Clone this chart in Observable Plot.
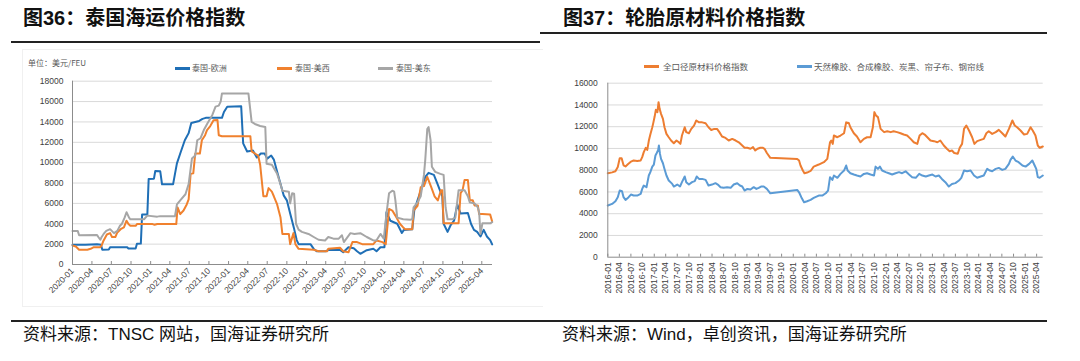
<!DOCTYPE html>
<html>
<head>
<meta charset="utf-8">
<script src="https://cdn.jsdelivr.net/npm/d3@7"></script>
<script src="https://cdn.jsdelivr.net/npm/@observablehq/plot@0.6"></script>
<style>
  html, body { margin: 0; padding: 0; background: #fff; }
  #root { position: relative; width: 1080px; height: 361px; overflow: hidden; background: #fff;
          font-family: "Liberation Sans", "Noto Sans CJK SC", sans-serif; }
  .abs { position: absolute; }
  .title { font-family: "Liberation Sans", "Noto Sans CJK SC", sans-serif; font-weight: bold; font-size: 20px; line-height: 20px; color: #111; white-space: nowrap; }
  .rule { background: #222; height: 2px; }
  .caption { font-family: "Liberation Sans", "Noto Sans CJK SC", sans-serif; font-size: 17px; line-height: 17px; color: #111; white-space: nowrap; }
  .leg { font-family: "Noto Sans CJK SC", sans-serif; font-size: 8px; line-height: 10px; color: #595959; white-space: nowrap; }
  .legR { font-size: 8.5px; }
  .sw { height: 2.5px; }
</style>
</head>
<body>
<div id="root"></div>
<script>
// ---------------- DATA ----------------
// Fig.36 — Thai shipping price index (USD/FEU); time = months since 2020-01
const thaiSeries = ["泰国-欧洲", "泰国-美西", "泰国-美东"];
const euT = [0,2,3.8,4.4,4.6,5.6,5.8,8.4,8.6,9.7,9.9,10.5,10.7,11.5,11.7,12.5,12.7,13.5,13.8,15.5,15.8,16.1,16.6,17.3,17.9,18.3,18.9,19.5,20,20.5,23,23.3,23.8,26,26.3,26.9,27.8,28.4,29,29.6,30,30.6,31,31.5,32,32.5,33,33.5,34.1,34.5,34.8,36.6,37.1,37.6,39,39.4,41.2,41.7,42.5,43.3,43.8,44.3,45.3,46.3,46.8,47.4,48,48.3,48.9,50,50.7,51,52.3,52.6,53.1,53.8,54.3,54.8,55.6,56.1,56.9,57.1,57.7,58.2,58.7,59.2,59.7,60.8,61.3,61.8,62.3,62.8,63.3,63.8,64.3,64.6];
const euV = [1950,1950,1980,1950,1450,1480,1700,1700,1570,1570,2030,2050,4900,4900,8400,8430,9180,9150,7870,7870,8900,9930,10900,12200,12900,13900,14000,14100,14300,14400,14400,14980,15500,15550,11900,11100,11200,10500,10900,10900,10400,10700,10300,9100,7930,6790,6300,5000,3500,2400,2000,2000,1530,1300,1300,1420,1420,1200,1700,1600,1300,1050,1400,1540,1300,1700,1700,5130,4300,4000,3100,3400,3450,5300,6300,7600,8600,9000,8800,8000,6700,4000,3200,3900,4300,5900,5000,5050,4000,3400,3200,2750,3400,2750,2400,1970];
const wcT = [0,0.5,1,2.3,2.8,3.3,4.3,4.5,4.8,5.3,5.8,6.1,6.6,6.9,7.4,7.9,8.3,8.6,8.9,9.7,9.9,12.3,12.6,13,16,16.2,16.6,17.1,17.6,17.9,18.2,18.6,18.9,19.6,19.9,20.4,20.7,21.2,21.7,22.3,22.5,23,27.4,27.6,28.1,28.6,28.9,29.4,29.9,30.2,30.7,31,31.5,32,32.3,33.3,33.5,34,34.3,34.8,37.1,37.9,39.2,39.4,41.2,41.7,42.5,43.1,43.8,44.6,46.3,46.8,47.7,48.2,48.7,49.2,49.7,50.4,50.9,51.2,52.3,52.5,53.1,53.6,54.1,54.6,55.2,55.7,56.2,56.7,56.9,57.1,59.4,59.7,60,60.3,60.8,61.1,61.6,61.9,62.4,62.6,63.1,64.3,64.6];
const wcV = [1870,1770,1450,1450,1540,1700,1700,1870,2360,2950,3080,2700,2700,3150,3470,3640,4300,3970,3800,3800,3970,3970,3900,3970,3970,5610,4950,5300,5900,6400,8900,8950,10900,10900,12200,12700,13200,13600,14160,14200,12700,12600,12600,11100,10900,10700,9800,6700,6700,7500,7150,6700,5900,4650,3000,3000,2000,3080,2000,1540,1450,1300,1300,1540,1640,1300,1200,2200,2200,2000,2000,2360,2200,2000,5460,5300,4800,4000,3640,3470,3470,5300,5770,7600,7700,8600,7600,6700,6300,7300,7300,4050,4050,7000,7300,8300,8300,6300,6300,5800,5800,4950,4950,4900,4230];
const ecT = [0,0.8,1,3.8,4,4.3,4.5,4.8,5.2,5.8,6.4,6.9,7.3,7.6,8,8.3,8.7,8.9,11,11.5,13,13.5,15.8,16.1,16.6,17.4,17.9,18.4,18.9,19.2,19.7,20.2,20.8,21.5,22,22.5,22.8,23,27.1,27.6,28.1,28.9,29.7,29.9,30.7,31.5,32,32.3,33.3,33.5,33.8,34.1,34.4,34.8,35.3,36.3,37.1,37.9,38.9,39.4,40.2,41,41.5,41.8,42.8,43.4,44.3,45.3,46.3,46.8,47.4,47.9,48.3,48.7,49.2,49.5,49.7,50,50.9,52,52.3,52.5,53.1,53.6,54.1,54.3,54.6,54.8,55.1,55.3,55.8,56.6,57.1,57.4,57.7,58.4,58.9,59.4,60.3,60.8,61.1,61.9,62.4,62.6,62.8,63.1,64.3,64.6];
const ecV = [3280,3280,2870,2900,2700,2430,2700,3000,3300,3470,3080,3300,3800,4000,4600,5130,4600,4440,4440,4800,4700,4750,4750,5900,6300,6900,7900,10400,10700,12200,12400,13200,13900,14660,15500,15600,16000,16800,16800,14000,13800,13600,13500,9900,9800,8900,7900,7250,7150,6000,7000,6950,4000,3430,3200,3000,2700,2430,2360,2700,2540,2540,2870,2200,3080,3000,3080,2700,2360,2380,3000,2540,4950,7000,7250,7150,6300,4600,4440,4400,4440,5600,6100,6700,8800,10300,13300,13500,12200,9600,9100,8900,8800,5600,4440,4440,4600,7300,7300,6700,6100,6000,5600,5130,3000,4050,4050,4160];
const leftTickLabels = ["2020-01","2020-04","2020-07","2020-10","2021-01","2021-04","2021-07","2021-10","2022-01","2022-04","2022-07","2022-10","2023-01","2023-04","2023-07","2023-10","2024-01","2024-04","2024-07","2024-10","2025-01","2025-04"];
const leftYTicks = [0,2000,4000,6000,8000,10000,12000,14000,16000,18000];

// Fig.37 — tyre raw material price index; time = months since 2016-01
const tyreSeries = ["全口径原材料价格指数", "天然橡胶、合成橡胶、炭黑、帘子布、钢帘线"];
const allT = [0,1.1,2,2.6,3.1,3.6,4.1,4.6,5.2,5.9,6.7,7.6,8.5,8.9,9.3,9.8,10.2,10.6,11,11.5,11.7,12.1,12.4,12.8,13.1,13.4,13.8,14.3,14.7,15.2,15.8,16.4,17.1,17.8,18.4,18.8,19.2,19.9,20.3,21,21.6,22.3,22.9,23.6,24.4,25.3,26.1,26.8,27.6,28.3,28.9,29.6,30.5,31.3,32.2,33.1,33.9,34.8,35.4,36.1,36.9,37.6,38.2,38.8,39.5,40.2,40.6,41.2,42.1,49,49.5,49.9,50.5,50.9,51.6,52.5,53.3,54.6,55.9,56.8,57.5,57.8,58.2,58.5,59.4,60.2,61.1,61.7,62.4,62.8,63.7,64.5,65.4,66.3,67.1,68,68.6,69,69.4,69.9,70.6,71.5,72.3,73.2,74,74.9,75.8,76.6,77.5,78.4,79.2,80.1,80.7,81.4,82,82.7,83.5,84.4,85.3,86.1,87,87.8,88.5,89.1,89.7,90.6,91.1,91.7,92.2,92.8,93.5,94.3,94.9,95.6,96.5,97.3,98,98.6,99.5,100.4,101.2,102.1,102.9,103.8,104.7,105.3,105.9,106.8,107.7,108.5,109.4,110,110.7,111.3,111.8,112.6];
const allV = [7720,7800,7900,8300,9100,9100,8450,8350,8550,8760,8900,8850,8900,9200,9660,10060,9870,10700,11280,11950,12260,12930,13550,13340,14250,13640,13180,12720,11950,11340,11030,10730,10480,10730,10570,10420,11190,11950,11500,11400,11800,12100,12570,12400,12400,12320,11950,11700,11800,11800,11500,11100,10970,10730,10880,10730,10570,10270,10060,10060,9970,10120,9810,9970,10060,10060,9970,9580,9140,9040,8890,8430,7970,7720,7780,7930,8330,8520,8740,9040,10570,10730,10420,11190,11030,11190,11400,12400,12340,11950,11400,11100,10570,10880,11030,11030,11950,13340,13030,12880,11800,11500,11580,11500,11580,11500,11400,11280,11190,10880,10570,10420,11190,11400,11280,11030,10730,10670,10570,10730,10270,9970,9750,9810,9580,9510,10060,10420,11800,12110,11650,11030,10420,10670,10790,10880,11400,11580,11340,11500,11710,11400,11100,11800,12570,12110,11950,11650,11280,11340,11950,11650,11190,10270,10060,10180];
const rubT = [0,1.1,2,2.6,3.1,3.7,4.1,4.6,5.4,6,6.7,7.6,8.5,8.9,9.3,10,10.6,11,11.5,11.9,12.3,12.6,13,13.2,13.5,13.8,14.3,14.7,15.2,15.8,16.7,17.1,18,18.7,19.2,19.9,20.3,21,21.8,22.5,23,23.6,24.4,25.3,26.1,27,27.9,28.5,29.2,30,30.9,31.8,32.6,33.5,34.2,34.8,35.4,36.1,36.9,37.8,38.5,39.1,39.7,40.4,41.2,42.1,49,49.5,50.1,50.8,51.6,52.5,53.3,54.6,55.5,56.4,57,57.5,58.1,58.5,59.4,60.2,61.1,61.7,62.1,62.8,63.7,64.5,65.4,66.3,67.1,68,68.9,69.3,69.9,70.4,71,71.9,72.7,73.6,74.5,75.4,76.2,77.1,78,78.8,79.7,80.6,81.4,82.3,83.1,84,84.8,85.7,86.5,87.4,88.3,89.1,90,90.9,91.5,92.2,93,93.9,94.8,95.6,96.5,97.3,98.2,98.9,99.5,100.4,101.2,102.1,102.9,103.8,104.2,104.8,105.5,106.3,107.3,108.1,109,109.9,110.5,110.9,111.3,111.8,112.6];
const rubV = [4750,4900,5150,5520,6130,6070,5520,5270,5520,5760,5670,5670,5820,6280,6590,6440,7510,7820,8330,8520,9350,9560,9870,10270,9500,9040,8640,8120,7510,7050,6740,6500,6680,6500,6900,7420,6900,6680,6900,6990,7420,7200,7200,7110,6590,6680,6810,6680,6440,6380,6440,6380,6680,6800,6590,6500,6130,6280,6220,6440,6280,6380,6500,6500,6280,5880,6190,5970,5520,5060,5150,5270,5450,5670,5670,5880,6130,7360,7110,7510,7300,7660,7970,8430,7970,7720,7600,7510,7420,7660,7720,7600,7510,8330,8120,8330,7970,7820,7720,7600,7720,7820,7720,7900,7600,7360,7300,7660,7510,7420,7510,7600,7420,7510,7200,6900,6500,6740,6810,7050,7300,7970,7900,7970,7510,7300,7420,7510,8120,7970,7900,8120,8210,8030,8120,8580,8950,9260,8890,8740,8430,8330,8580,8890,8430,8120,7360,7300,7510];
const rightTickLabels = ["2016-01","2016-04","2016-07","2016-10","2017-01","2017-04","2017-07","2017-10","2018-01","2018-04","2018-07","2018-10","2019-01","2019-04","2019-07","2019-10","2020-01","2020-04","2020-07","2020-10","2021-01","2021-04","2021-07","2021-10","2022-01","2022-04","2022-07","2022-10","2023-01","2023-04","2023-07","2023-10","2024-01","2024-04","2024-07","2024-10","2025-01","2025-04"];
const rightYTicks = [0,2000,4000,6000,8000,10000,12000,14000,16000];

// ---------------- HELPERS ----------------
const parseM = d3.utcParse("%Y-%m");
function toDate(base, m) {
  const i = Math.floor(m);
  const a = d3.utcMonth.offset(base, i), b = d3.utcMonth.offset(base, i + 1);
  return new Date(+a + (m - i) * (b - a));
}
function rows(base, T, V, name) { return T.map((t, i) => ({date: toDate(base, t), v: V[i], name})); }

const root = document.getElementById("root");
function el(cls, css, text) {
  const d = document.createElement("div");
  d.className = "abs " + cls;
  Object.assign(d.style, css);
  if (text != null) d.textContent = text;
  root.appendChild(d);
  return d;
}

const axisColor = "#8c8c8c";
const gridColor = "#d9d9d9";
const tickText = "#404040";
const fontStack = "'Liberation Sans', Arial, sans-serif";

// ---------------- LEFT PANEL ----------------
el("title", {left: "23px", top: "8px"}, "图36：泰国海运价格指数");
el("rule", {left: "11px", top: "41px", width: "529px"});
el("", {left: "22px", top: "49px", width: "520px", height: "256px", borderLeft: "1px solid #f0f0f0", borderTop: "1px solid #f0f0f0", borderBottom: "1px solid #f0f0f0"});
el("leg", {left: "28px", top: "58px"}, "单位：美元/FEU");

const leftColors = ["#1f6fb6", "#f0812e", "#a6a6a6"];
const legL = [[175, 192], [277, 295], [378, 396]];
thaiSeries.forEach((s, i) => {
  el("sw", {left: legL[i][0] + "px", top: "67px", width: "15px", background: leftColors[i]});
  el("leg", {left: legL[i][1] + "px", top: "63px"}, s);
});

const b0 = parseM("2020-01");
const leftDomain = [b0, toDate(b0, 64.65)];
const lTicks = leftTickLabels.map(parseM);
const L = {w: 540, h: 262, mt: 32.7, mb: 46, ml: 72, mr: 48};
const leftPlot = Plot.plot({
  width: L.w, height: L.h,
  marginTop: L.mt, marginBottom: L.mb, marginLeft: L.ml, marginRight: L.mr,
  style: {fontFamily: fontStack, fontSize: "8.5px", color: tickText, background: "transparent", overflow: "visible"},
  x: {type: "utc", domain: leftDomain},
  y: {domain: [0, 18000]},
  marks: [
    Plot.gridY({ticks: leftYTicks.slice(1), stroke: gridColor, strokeOpacity: 1, strokeWidth: 1}),
    Plot.lineY(rows(b0, euT, euV, thaiSeries[0]), {x: "date", y: "v", stroke: leftColors[0], strokeWidth: 2}),
    Plot.lineY(rows(b0, wcT, wcV, thaiSeries[1]), {x: "date", y: "v", stroke: leftColors[1], strokeWidth: 2}),
    Plot.lineY(rows(b0, ecT, ecV, thaiSeries[2]), {x: "date", y: "v", stroke: leftColors[2], strokeWidth: 2}),
    Plot.ruleX([leftDomain[0]], {stroke: axisColor}),
    Plot.ruleY([0], {stroke: axisColor}),
    Plot.tickX(lTicks, {x: d => d, insetTop: (L.h - L.mt - L.mb) - 3, stroke: axisColor}),
    Plot.axisX({ticks: lTicks, tickFormat: d3.utcFormat("%Y-%m"), tickRotate: -45, tickSize: 0, tickPadding: 5, label: null, fill: tickText}),
    Plot.axisY({ticks: leftYTicks, tickFormat: d => String(d), tickSize: 0, tickPadding: 9, label: null, fill: tickText})
  ]
});
const lw = el("", {left: "0px", top: "48px"});
lw.appendChild(leftPlot);

el("rule", {left: "11px", top: "320px", width: "529px"});
el("caption", {left: "23px", top: "326px"}, "资料来源：TNSC 网站，国海证券研究所");

// ---------------- RIGHT PANEL ----------------
el("title", {left: "563px", top: "8px"}, "图37：轮胎原材料价格指数");
el("rule", {left: "540px", top: "32px", width: "507px"});

const rightColors = ["#ed7d31", "#5b9bd5"];
const legR = [[644, 663], [797, 814]];
tyreSeries.forEach((s, i) => {
  el("sw", {left: legR[i][0] + "px", top: "65px", width: "15px", background: rightColors[i]});
  el("leg legR", {left: legR[i][1] + "px", top: "61px"}, s);
});

const b1 = parseM("2016-01");
const rightDomain = [b1, toDate(b1, 112.7)];
const rTicks = rightTickLabels.map(parseM);
const R = {w: 540, h: 240, mt: 12.7, mb: 53.3, ml: 67.3, mr: 37.3};
const rightPlot = Plot.plot({
  width: R.w, height: R.h,
  marginTop: R.mt, marginBottom: R.mb, marginLeft: R.ml, marginRight: R.mr,
  style: {fontFamily: fontStack, fontSize: "8.5px", color: tickText, background: "transparent", overflow: "visible"},
  x: {type: "utc", domain: rightDomain},
  y: {domain: [0, 16000]},
  marks: [
    Plot.gridY({ticks: rightYTicks.slice(1), stroke: gridColor, strokeOpacity: 1, strokeWidth: 1}),
    Plot.lineY(rows(b1, allT, allV, tyreSeries[0]), {x: "date", y: "v", stroke: rightColors[0], strokeWidth: 2}),
    Plot.lineY(rows(b1, rubT, rubV, tyreSeries[1]), {x: "date", y: "v", stroke: rightColors[1], strokeWidth: 2}),
    Plot.ruleX([rightDomain[0]], {stroke: axisColor}),
    Plot.ruleY([0], {stroke: axisColor}),
    Plot.tickX(rTicks, {x: d => d, insetTop: (R.h - R.mt - R.mb) - 3, stroke: axisColor}),
    Plot.axisX({ticks: rTicks, tickFormat: d3.utcFormat("%Y-%m"), tickRotate: -90, tickSize: 0, tickPadding: 5, label: null, fill: tickText}),
    Plot.axisY({ticks: rightYTicks, tickFormat: d => String(d), tickSize: 0, tickPadding: 10, label: null, fill: tickText})
  ]
});
const rw = el("", {left: "540px", top: "70px"});
rw.appendChild(rightPlot);

el("rule", {left: "540px", top: "320px", width: "507px"});
el("caption", {left: "562px", top: "326px"}, "资料来源：Wind，卓创资讯，国海证券研究所");
</script>
</body>
</html>
